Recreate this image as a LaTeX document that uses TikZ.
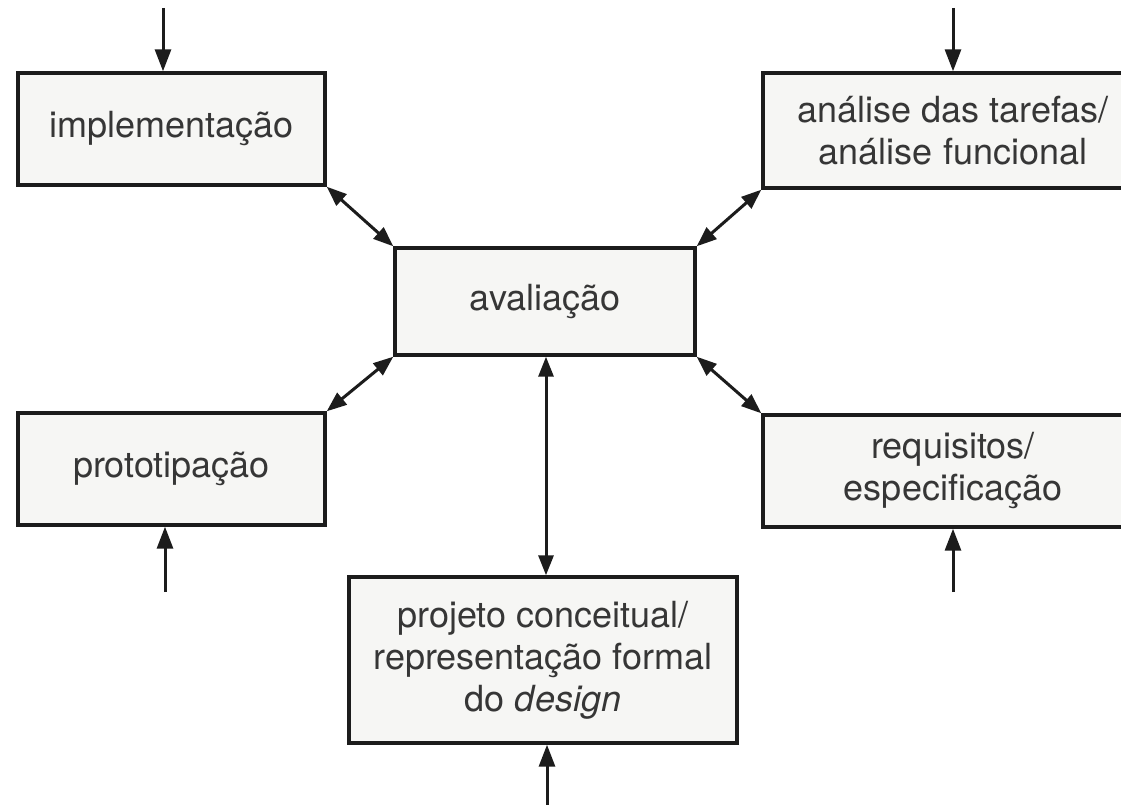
\documentclass[tikz,border=0pt]{standalone}
\usepackage{fontspec}
\setmainfont{TeX Gyre Heros}
\usetikzlibrary{arrows.meta}
\definecolor{inkline}{HTML}{1C1C1C}
\definecolor{inktext}{HTML}{363636}
\definecolor{boxfill}{HTML}{F6F6F4}
\begin{document}
\begin{tikzpicture}[x=1pt,y=-1pt,
  stage/.style={draw=inkline, line width=3.4pt, fill=boxfill, text=inktext,
    align=center, inner sep=0pt, font=\fontsize{36}{42}\selectfont},
  link/.style={draw=inkline, line width=3pt,
    {Triangle[length=20pt,width=15pt]}-{Triangle[length=20pt,width=15pt]}},
  feed/.style={draw=inkline, line width=3pt, -{Triangle[length=22pt,width=16pt]}}]
\useasboundingbox (0,0) rectangle (1121,805);
\clip (0,0) rectangle (1121,805);

% stages of the cycle
\node[stage, minimum width=307pt, minimum height=112pt] (impl) at (171.5,129)
  {\raisebox{-8pt}{implementação}};
\node[stage, minimum width=380pt, minimum height=115pt] (anal) at (953,130.5)
  {análise das tarefas/\\análise funcional};
\node[stage, minimum width=300pt, minimum height=107pt] (aval) at (545,301.5)
  {avaliação};
\node[stage, minimum width=307pt, minimum height=112pt] (proto) at (171.5,469)
  {prototipação};
\node[stage, minimum width=380pt, minimum height=112pt] (req) at (953,471)
  {requisitos/\\especificação};
\node[stage, minimum width=388pt, minimum height=166pt] (proj) at (543,660)
  {projeto conceitual/\\representação formal\\do \textit{design}};

% evaluation links to every stage
\draw[link] (impl.south east) -- (aval.north west);
\draw[link] (anal.south west) -- (aval.north east);
\draw[link] (proto.north east) -- (aval.south west);
\draw[link] (req.north west) -- (aval.south east);
\draw[link] (aval.south -| 546,0) -- (proj.north -| 546,0);

% entry points from outside
\coordinate (eImpl) at (163,8);
\coordinate (eAnal) at (953,8);
\coordinate (eProto) at (165,592);
\coordinate (eReq) at (953,592);
\coordinate (eProj) at (547,810);
\draw[feed] (eImpl) -- (eImpl |- impl.north);
\draw[feed] (eAnal) -- (eAnal |- anal.north);
\draw[feed] (eProto) -- (eProto |- proto.south);
\draw[feed] (eReq) -- (eReq |- req.south);
\draw[feed] (eProj) -- (eProj |- proj.south);
\end{tikzpicture}
\end{document}
